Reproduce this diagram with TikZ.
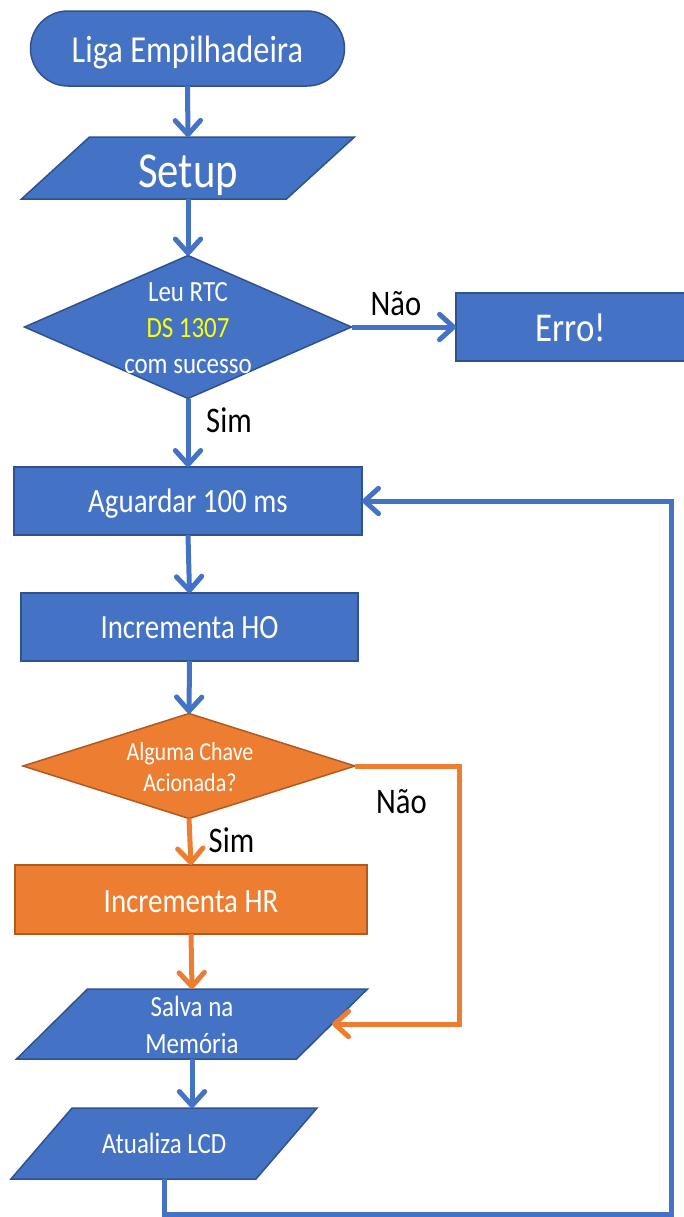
\documentclass[tikz,border=0pt]{standalone}
\usepackage{fontspec}
\setmainfont{Carlito}[FakeStretch=0.85]
\usetikzlibrary{shapes.geometric,arrows.meta,backgrounds}
\newlength\pxu
\setlength\pxu{0.75pt}
\definecolor{bfill}{HTML}{4472C4}
\definecolor{bdark}{HTML}{2F528F}
\definecolor{ofill}{HTML}{ED7D31}
\definecolor{odark}{HTML}{AE5A21}
\definecolor{dsyellow}{HTML}{FFFF00}
\begin{document}
\begin{tikzpicture}[x=0.75pt, y=-0.75pt,
  shapebase/.style={draw=bdark, fill=bfill, line width=1.5\pxu, text=white,
    inner sep=0pt, outer sep=0pt, text depth=0pt},
  orangeshape/.style={draw=odark, fill=ofill},
  procbox/.style={shapebase, rectangle},
  termbox/.style={shapebase, rectangle, rounded corners=37.5\pxu},
  decision/.style={shapebase, diamond},
  % body of a parallelogram: the slanted outline is drawn behind it
  iobody/.style={rectangle, text=white, inner sep=0pt, outer sep=0pt, text depth=0pt},
  ioedge/.style={draw=bdark, fill=bfill, line width=1.5\pxu, line join=miter},
  linetext/.style={anchor=base, inner sep=0pt, text=white},
  tag/.style={anchor=base, inner sep=0pt, text=black, font=\fontsize{27}{30}\selectfont},
  flow/.style={draw=bfill, line width=3.75pt,
    -{Straight Barb[length=10.5pt, width=19pt, line cap=round, line join=round]}},
  oflow/.style={flow, draw=ofill}
]
\useasboundingbox (0,0) rectangle (683,1217);

% --- start and setup ---
\node[termbox, minimum width=314\pxu, minimum height=75\pxu, text height=27\pxu,
  font=\fontsize{28.6}{32}\selectfont] (start) at (187.5,48.5) {Liga Empilhadeira};
\node[iobody, minimum width=265\pxu, minimum height=62\pxu, text height=38\pxu,
  font=\fontsize{37.7}{40}\selectfont] (setup) at (188,168) {Setup};

% --- RTC check ---
\node[decision, minimum width=327\pxu, minimum height=143\pxu] (rtc) at (188,327) {};
\node[linetext, font=\fontsize{22}{26}\selectfont] (rtcA) at (188,301) {Leu RTC};
\node[linetext, text=dsyellow, font=\fontsize{22}{26}\selectfont] (rtcB) at (188,337) {DS 1307};
\node[linetext, font=\fontsize{22}{26}\selectfont] (rtcC) at (188,373) {com sucesso};
\node[procbox, minimum width=230\pxu, minimum height=68\pxu, text height=28\pxu,
  font=\fontsize{30.7}{34}\selectfont] (erro) at (571,327) {Erro!};

% --- main loop ---
\node[procbox, minimum width=348\pxu, minimum height=68\pxu, text height=22\pxu,
  font=\fontsize{25.5}{28}\selectfont] (wait) at (188,501) {Aguardar 100 ms};
\node[procbox, minimum width=337\pxu, minimum height=68\pxu, text height=22\pxu,
  font=\fontsize{25.5}{28}\selectfont] (incho) at (189.5,627) {Incrementa HO};
\node[decision, orangeshape, minimum width=332\pxu, minimum height=105\pxu] (key) at (189,766) {};
\node[linetext, font=\fontsize{19.4}{22}\selectfont] (keyA) at (190,760) {Alguma Chave};
\node[linetext, font=\fontsize{19.4}{22}\selectfont] (keyB) at (190,791) {Acionada?};
\node[procbox, orangeshape, minimum width=352\pxu, minimum height=69\pxu, text height=25\pxu,
  font=\fontsize{25.5}{28}\selectfont] (inchr) at (191,899.5) {Incrementa HR};
\node[iobody, minimum width=280\pxu, minimum height=70\pxu] (save) at (192,1024) {};
\node[linetext, font=\fontsize{22}{26}\selectfont] (saveA) at (192,1016) {Salva na};
\node[linetext, font=\fontsize{22}{26}\selectfont] (saveB) at (192,1053) {Memória};
\node[iobody, minimum width=245\pxu, minimum height=71\pxu, text height=19\pxu,
  font=\fontsize{22}{26}\selectfont] (lcd) at (164,1143.5) {Atualiza LCD};

% --- slanted outlines of the input/output boxes ---
\begin{pgfonlayer}{background}
  \draw[ioedge] ([xshift=25.5pt]setup.north west) -- ([xshift=25.5pt]setup.north east)
    -- ([xshift=-25.5pt]setup.south east) -- ([xshift=-25.5pt]setup.south west) -- cycle;
  \draw[ioedge] ([xshift=26.6pt]save.north west) -- ([xshift=26.6pt]save.north east)
    -- ([xshift=-26.6pt]save.south east) -- ([xshift=-26.6pt]save.south west) -- cycle;
  \draw[ioedge] ([xshift=22.9pt]lcd.north west) -- ([xshift=22.9pt]lcd.north east)
    -- ([xshift=-22.9pt]lcd.south east) -- ([xshift=-22.9pt]lcd.south west) -- cycle;
\end{pgfonlayer}

% --- branch labels ---
\node[tag] (nao1) at (396,315) {Não};
\node[tag] (sim1) at (229,432) {Sim};
\node[tag] (nao2) at (401.5,813) {Não};
\node[tag] (sim2) at (231.5,852) {Sim};

% --- bend points ---
\coordinate (keyturn) at (459.5,766);
\coordinate (loopturn) at (671,1214);

% --- connectors ---
\draw[flow] (start.south) -- (setup.north);
\draw[flow] (setup.south) -- (rtc.north);
\draw[flow] (rtc.east) -- (erro.west);
\draw[flow] (rtc.south) -- (wait.north);
\draw[flow] (wait.south) -- (incho.north);
\draw[flow] (incho.south) -- (key.north);
\draw[oflow] (key.south) -- (inchr.north);
\draw[oflow] (inchr.south) -- (save.north);
\draw[oflow] (key.east) -- (keyturn) |- (save.east);
\draw[flow] (save.south) -- (save.south |- lcd.north);
\draw[flow] (lcd.south) |- (loopturn) |- (wait.east);
\end{tikzpicture}
\end{document}
